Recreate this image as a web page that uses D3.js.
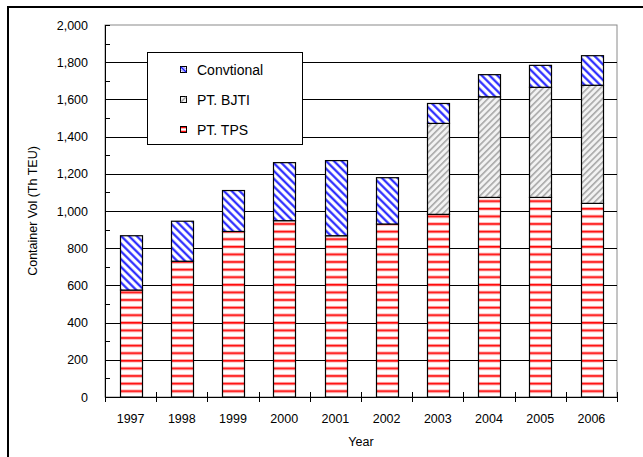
<!DOCTYPE html>
<html><head><meta charset="utf-8">
<script src="https://cdn.jsdelivr.net/npm/d3@7"></script>
<style>body{margin:0;background:#fff}svg{display:block}text{font-family:"Liberation Sans",Arial,sans-serif;fill:#000}</style>
</head><body><div id="c"></div>
<script>
const years = ["1997","1998","1999","2000","2001","2002","2003","2004","2005","2006"];
const tps   = [575, 730, 890, 948, 867, 930, 982, 1073, 1073, 1041];
const bjti  = [0, 0, 0, 0, 0, 0, 489, 541, 592, 635];
const conv  = [292, 215, 220, 312, 404, 249, 107, 119, 118, 159];
const seriesKeys = ["tps","bjti","conv"];
const legendLabels = ["Convtional","PT. BJTI","PT. TPS"];
const yTicks = [0,200,400,600,800,1000,1200,1400,1600,1800,2000];

const W=643,H=457;
const m={l:105,r:617,t:25,b:397};
const svg=d3.select("#c").append("svg").attr("width",W).attr("height",H);
const defs=svg.append("defs");

// patterns
const pT=defs.append("pattern").attr("id","pTPS").attr("patternUnits","userSpaceOnUse").attr("width",8).attr("height",7.6);
pT.append("rect").attr("width",8).attr("height",7.6).attr("fill","#fff");
pT.append("rect").attr("y",2).attr("width",8).attr("height",3.2).attr("fill","#ffa8a8");
pT.append("rect").attr("y",2.8).attr("width",8).attr("height",1.6).attr("fill","#ff0a0a");

const pB=defs.append("pattern").attr("id","pBJ").attr("patternUnits","userSpaceOnUse").attr("width",4.5).attr("height",4.5).attr("patternTransform","rotate(45)");
pB.append("rect").attr("width",4.5).attr("height",4.5).attr("fill","#f2f2f2");
pB.append("rect").attr("x",0).attr("width",1.6).attr("height",4.5).attr("fill","#a8a8a8");

const pC=defs.append("pattern").attr("id","pCV").attr("patternUnits","userSpaceOnUse").attr("width",5.5).attr("height",5.5).attr("patternTransform","rotate(-45)");
pC.append("rect").attr("width",5.5).attr("height",5.5).attr("fill","#fff");
pC.append("rect").attr("x",0).attr("width",2.6).attr("height",5.5).attr("fill","#9a9aff");
pC.append("rect").attr("x",0.5).attr("width",1.6).attr("height",5.5).attr("fill","#1a1aff");

const fills={tps:"url(#pTPS)",bjti:"url(#pBJ)",conv:"url(#pCV)"};

// outer frame
svg.append("rect").attr("x",8).attr("y",7).attr("width",W).attr("height",H).attr("fill","none").attr("stroke","#000").attr("stroke-width",2);

const x=d3.scaleBand().domain(years).range([m.l,m.r]).paddingInner(0.58).paddingOuter(0.29);
const y=d3.scaleLinear().domain([0,2000]).range([m.b,m.t]);

// plot border
svg.append("rect").attr("x",m.l).attr("y",m.t).attr("width",m.r-m.l).attr("height",m.b-m.t).attr("fill","none").attr("stroke","#8a8a8a").attr("stroke-width",1);

// gridlines
svg.append("g").selectAll("line").data(yTicks.filter(d=>d>0&&d<2000)).join("line")
 .attr("x1",m.l).attr("x2",m.r).attr("y1",d=>Math.round(y(d))+0.5).attr("y2",d=>Math.round(y(d))+0.5)
 .attr("stroke","#000").attr("stroke-width",1);

// stacked bars
const data=years.map((yr,i)=>({year:yr,tps:tps[i],bjti:bjti[i],conv:conv[i]}));
const stack=d3.stack().keys(seriesKeys)(data);
svg.append("g").selectAll("g").data(stack).join("g").attr("fill",d=>fills[d.key])
 .selectAll("rect").data(d=>d.filter(v=>v[1]-v[0]>0)).join("rect")
 .attr("x",d=>Math.round(x(d.data.year))+0.5).attr("width",Math.round(x.bandwidth()))
 .attr("y",d=>y(d[1])).attr("height",d=>y(d[0])-y(d[1]))
 .attr("stroke","#000").attr("stroke-width",1.2);

// y axis
const ya=svg.append("g").attr("transform",`translate(${m.l},0)`)
 .call(d3.axisLeft(y).tickValues(yTicks).tickFormat(d3.format(",")).tickSize(0).tickPadding(17));
ya.select(".domain").attr("stroke","#000");
ya.selectAll("text").attr("font-size",12.5).style("font-family","Liberation Sans, Arial, sans-serif");
svg.append("g").selectAll("line").data(d3.range(0,2001,100)).join("line")
 .attr("x1",m.l).attr("x2",m.l+5).attr("y1",d=>Math.round(y(d))+0.5).attr("y2",d=>Math.round(y(d))+0.5).attr("stroke","#000");

// x axis
svg.append("line").attr("x1",m.l).attr("x2",m.r).attr("y1",m.b+0.5).attr("y2",m.b+0.5).attr("stroke","#000");
const bounds=years.map((v,i)=>m.l+i*(m.r-m.l)/years.length).concat([m.r]);
svg.append("g").selectAll("line").data(bounds).join("line")
 .attr("x1",d=>Math.round(d)+0.5).attr("x2",d=>Math.round(d)+0.5).attr("y1",m.b-5).attr("y2",m.b+5).attr("stroke","#000");
svg.append("g").selectAll("text").data(years).join("text")
 .attr("x",d=>x(d)+x.bandwidth()/2).attr("y",423).attr("text-anchor","middle").attr("font-size",12.5).text(d=>d);

// axis titles
svg.append("text").attr("x",361).attr("y",446).attr("text-anchor","middle").attr("font-size",12.5).text("Year");
svg.append("text").attr("transform",`translate(37,${(m.t+m.b)/2}) rotate(-90)`).attr("text-anchor","middle").attr("font-size",12.5).text("Container Vol (Th TEU)");

// legend
const lg=svg.append("g");
lg.append("rect").attr("x",147.5).attr("y",52.5).attr("width",155).attr("height",92).attr("fill","#fff").attr("stroke","#000");
const legKeys=["conv","bjti","tps"];
legKeys.forEach((k,i)=>{
  const cy=70+i*30;
  const sx=180.5, sy=cy-3.5, s=6;
  if(k==="tps"){
    lg.append("rect").attr("x",sx).attr("y",sy).attr("width",s).attr("height",s).attr("fill","#fff").attr("stroke","#000");
    lg.append("rect").attr("x",sx+0.5).attr("y",sy+0.5).attr("width",s-1).attr("height",1.3).attr("fill","#ff0a0a");
    lg.append("rect").attr("x",sx+0.5).attr("y",sy+s-1.8).attr("width",s-1).attr("height",1.3).attr("fill","#ff0a0a");
  } else if(k==="conv"){
    lg.append("rect").attr("x",sx).attr("y",sy).attr("width",s).attr("height",s).attr("fill","#fff").attr("stroke","#000");
    lg.append("line").attr("x1",sx+0.5).attr("y1",sy+0.5).attr("x2",sx+s-0.5).attr("y2",sy+s-0.5).attr("stroke","#1a1aff").attr("stroke-width",1.6);
    lg.append("line").attr("x1",sx+3).attr("y1",sy+0.5).attr("x2",sx+s-0.5).attr("y2",sy+3).attr("stroke","#6a6aff").attr("stroke-width",1);
    lg.append("line").attr("x1",sx+0.5).attr("y1",sy+3).attr("x2",sx+3).attr("y2",sy+s-0.5).attr("stroke","#6a6aff").attr("stroke-width",1);
  } else {
    lg.append("rect").attr("x",sx).attr("y",sy).attr("width",s).attr("height",s).attr("fill","#f0f0f0").attr("stroke","#000");
    lg.append("line").attr("x1",sx+0.5).attr("y1",sy+s-0.5).attr("x2",sx+s-0.5).attr("y2",sy+0.5).attr("stroke","#a0a0a0").attr("stroke-width",1.4);
  }
  lg.append("text").attr("x",197).attr("y",cy+5).attr("font-size",14).text(legendLabels[i]);
});
</script></body></html>
